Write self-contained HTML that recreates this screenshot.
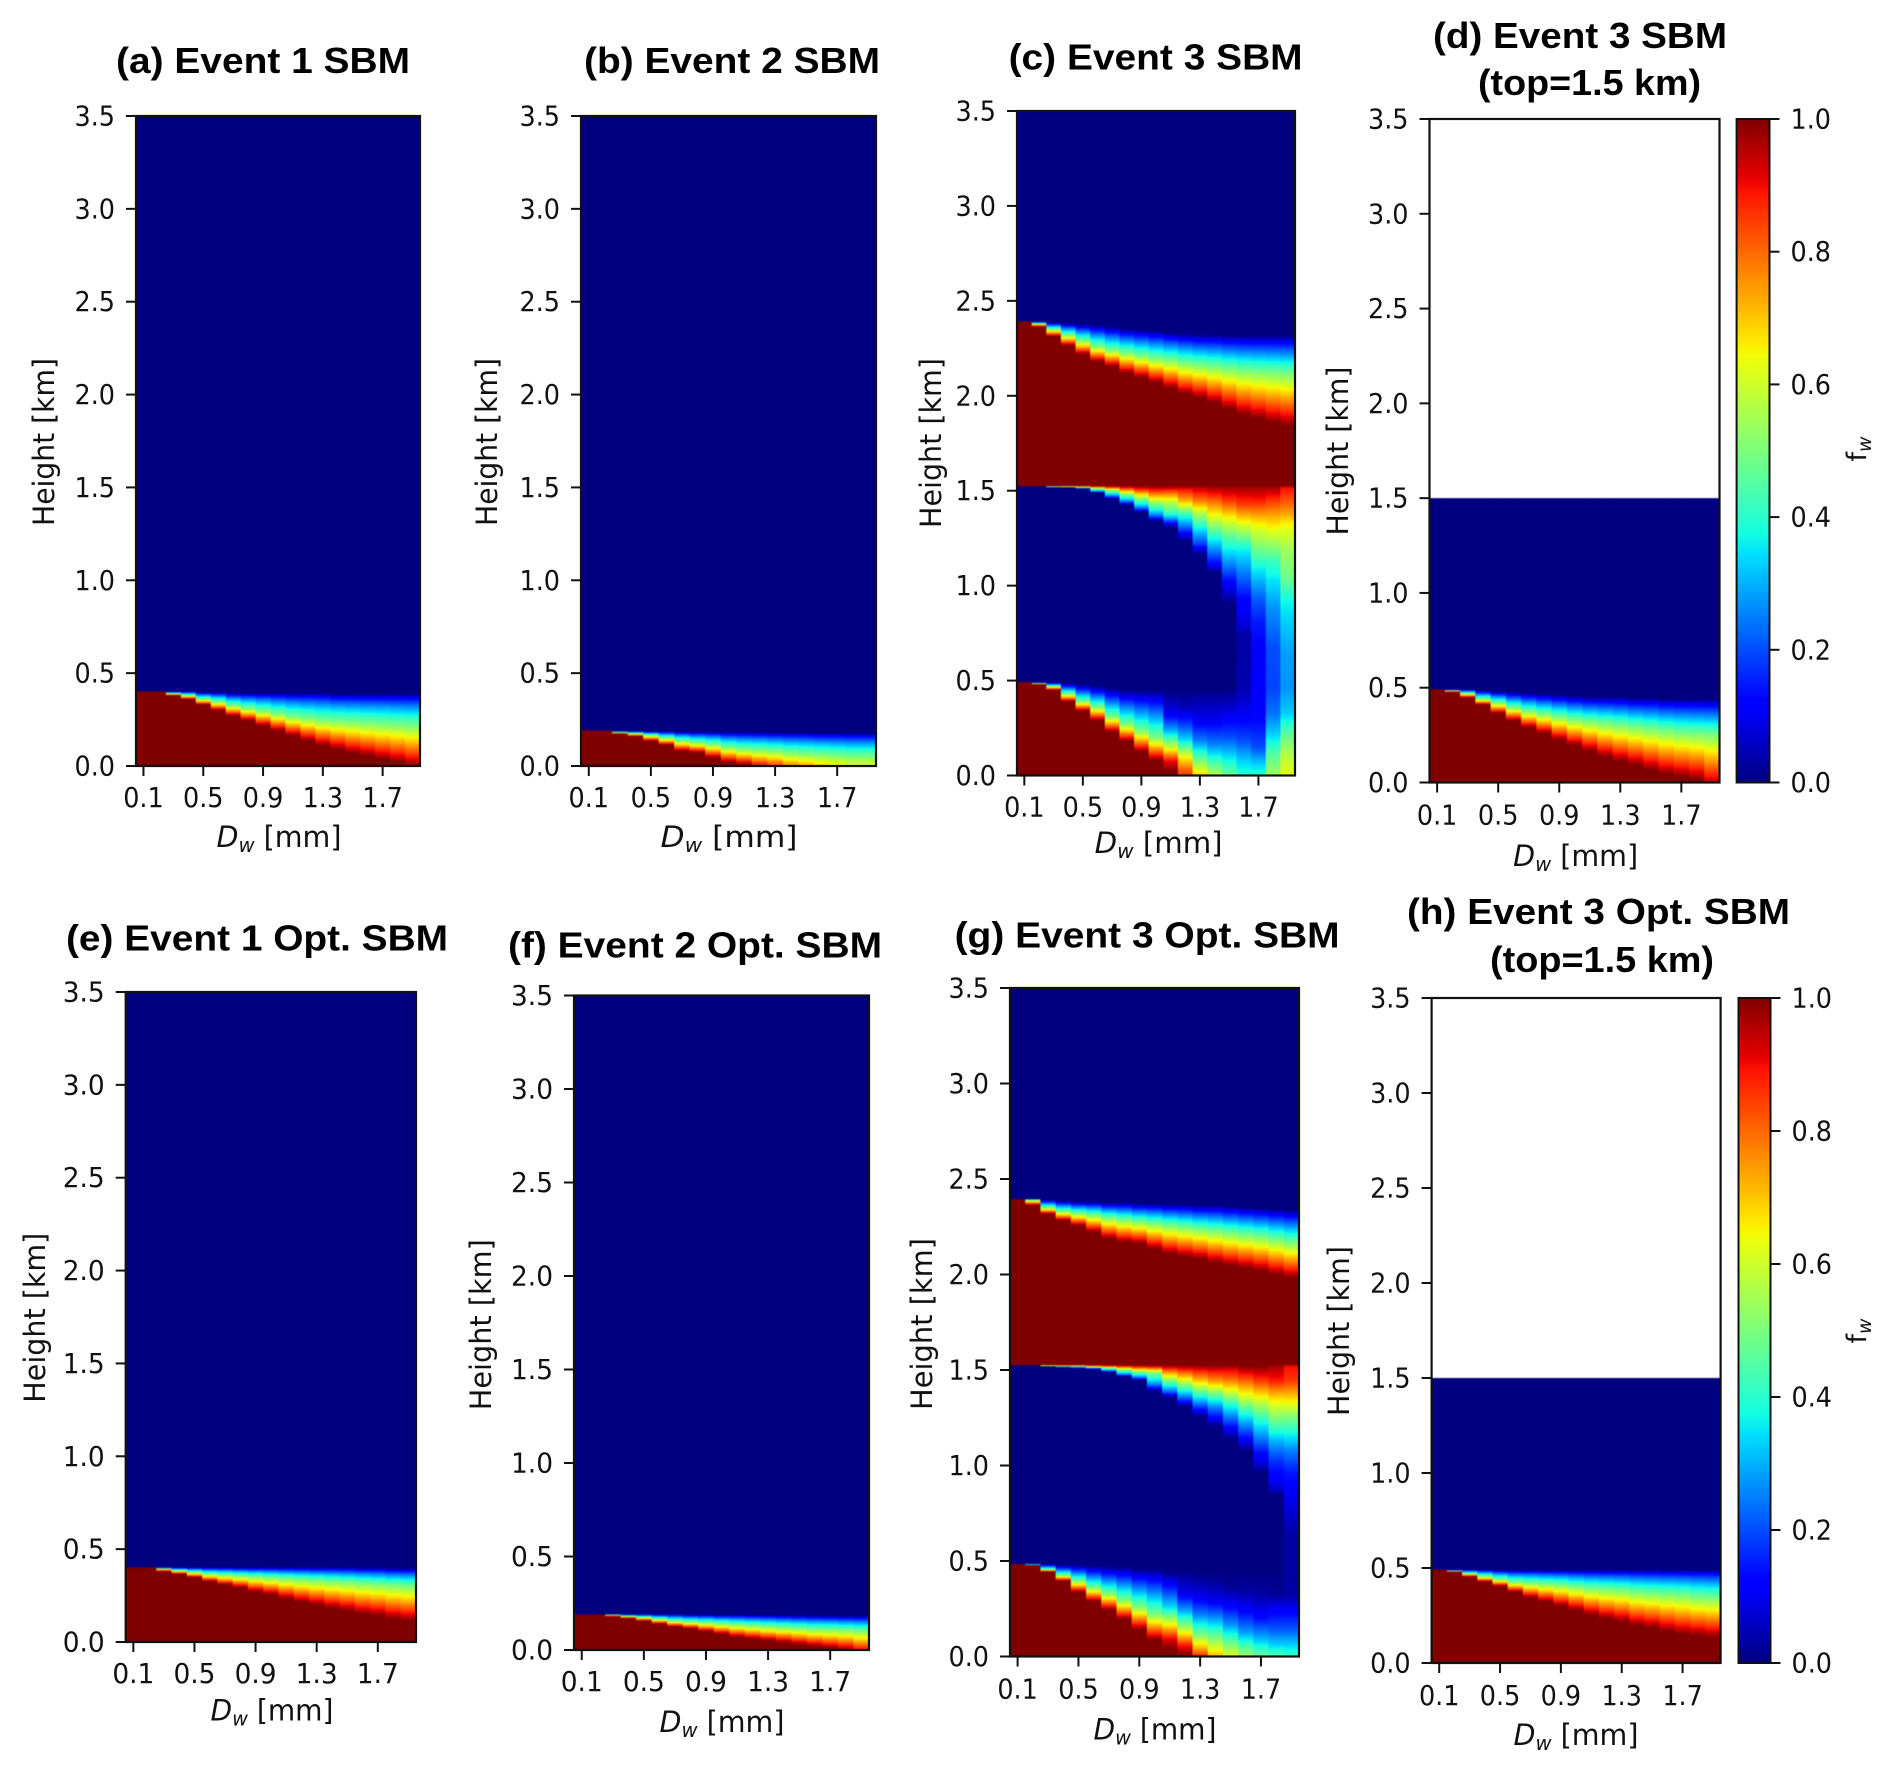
<!DOCTYPE html>
<html lang="en">
<head>
<meta charset="utf-8">
<title>Melt fraction by drop size and height</title>
<style>
html,body{margin:0;padding:0;background:#fff;}
svg{display:block;}
.title{font-family:"Liberation Sans",Arial,sans-serif;font-weight:bold;font-size:36px;fill:#000;}
.lab{font-family:"DejaVu Sans",sans-serif;font-size:29px;fill:#111;}
.it{font-style:italic;}
.tick{font-family:"DejaVu Sans",sans-serif;fill:#111;}
.heat{filter:blur(0.6px);}
</style>
</head>
<body>
<svg id="figure" xmlns="http://www.w3.org/2000/svg" width="1892" height="1770" viewBox="0 0 1892 1770">
<defs id="grads"></defs>
<rect width="1892" height="1770" fill="#fff"/>

<g id="panel-a">
<text class="title" x="116" y="73" textLength="294" lengthAdjust="spacingAndGlyphs">(a) Event 1 SBM</text>
<text class="lab" transform="translate(54,442) rotate(-90)" text-anchor="middle" textLength="168" lengthAdjust="spacingAndGlyphs">Height [km]</text>
<text class="lab" x="279" y="847" text-anchor="middle" textLength="125" lengthAdjust="spacingAndGlyphs"><tspan class="it">D</tspan><tspan class="it" font-size="20" dy="5">w</tspan><tspan dy="-5"> [mm]</tspan></text>
</g>

<g id="panel-b">
<text class="title" x="584" y="73" textLength="296" lengthAdjust="spacingAndGlyphs">(b) Event 2 SBM</text>
<text class="lab" transform="translate(497,442) rotate(-90)" text-anchor="middle" textLength="168" lengthAdjust="spacingAndGlyphs">Height [km]</text>
<text class="lab" x="729" y="847" text-anchor="middle" textLength="137" lengthAdjust="spacingAndGlyphs"><tspan class="it">D</tspan><tspan class="it" font-size="20" dy="5">w</tspan><tspan dy="-5"> [mm]</tspan></text>
</g>

<g id="panel-c">
<text class="title" x="1008.6" y="69.6" textLength="294" lengthAdjust="spacingAndGlyphs">(c) Event 3 SBM</text>
<text class="lab" transform="translate(941,443) rotate(-90)" text-anchor="middle" textLength="170" lengthAdjust="spacingAndGlyphs">Height [km]</text>
<text class="lab" x="1158.6" y="852.8" text-anchor="middle" textLength="128" lengthAdjust="spacingAndGlyphs"><tspan class="it">D</tspan><tspan class="it" font-size="20" dy="5">w</tspan><tspan dy="-5"> [mm]</tspan></text>
</g>

<g id="panel-d">
<text class="title" x="1433" y="48" textLength="294" lengthAdjust="spacingAndGlyphs">(d) Event 3 SBM</text>
<text class="title" x="1478" y="95" textLength="223" lengthAdjust="spacingAndGlyphs">(top=1.5 km)</text>
<text class="lab" transform="translate(1348,451) rotate(-90)" text-anchor="middle" textLength="169" lengthAdjust="spacingAndGlyphs">Height [km]</text>
<text class="lab" x="1575.6" y="865.8" text-anchor="middle" textLength="125" lengthAdjust="spacingAndGlyphs"><tspan class="it">D</tspan><tspan class="it" font-size="20" dy="5">w</tspan><tspan dy="-5"> [mm]</tspan></text>
<text class="lab" transform="translate(1866,449) rotate(-90)" text-anchor="middle" style="font-size:27px">f<tspan class="it" font-size="19" dy="5">w</tspan></text>
</g>

<g id="panel-e">
<text class="title" x="66" y="950.6" textLength="382" lengthAdjust="spacingAndGlyphs">(e) Event 1 Opt. SBM</text>
<text class="lab" transform="translate(45,1317.7) rotate(-90)" text-anchor="middle" textLength="170" lengthAdjust="spacingAndGlyphs">Height [km]</text>
<text class="lab" x="272" y="1720.6" text-anchor="middle" textLength="123" lengthAdjust="spacingAndGlyphs"><tspan class="it">D</tspan><tspan class="it" font-size="20" dy="5">w</tspan><tspan dy="-5"> [mm]</tspan></text>
</g>

<g id="panel-f">
<text class="title" x="508" y="957.6" textLength="374" lengthAdjust="spacingAndGlyphs">(f) Event 2 Opt. SBM</text>
<text class="lab" transform="translate(491,1324.7) rotate(-90)" text-anchor="middle" textLength="171" lengthAdjust="spacingAndGlyphs">Height [km]</text>
<text class="lab" x="722" y="1732" text-anchor="middle" textLength="125" lengthAdjust="spacingAndGlyphs"><tspan class="it">D</tspan><tspan class="it" font-size="20" dy="5">w</tspan><tspan dy="-5"> [mm]</tspan></text>
</g>

<g id="panel-g">
<text class="title" x="954.6" y="947.6" textLength="385" lengthAdjust="spacingAndGlyphs">(g) Event 3 Opt. SBM</text>
<text class="lab" transform="translate(932,1324) rotate(-90)" text-anchor="middle" textLength="172" lengthAdjust="spacingAndGlyphs">Height [km]</text>
<text class="lab" x="1155" y="1739.6" text-anchor="middle" textLength="123" lengthAdjust="spacingAndGlyphs"><tspan class="it">D</tspan><tspan class="it" font-size="20" dy="5">w</tspan><tspan dy="-5"> [mm]</tspan></text>
</g>

<g id="panel-h">
<text class="title" x="1407" y="924" textLength="383" lengthAdjust="spacingAndGlyphs">(h) Event 3 Opt. SBM</text>
<text class="title" x="1490" y="972" textLength="224" lengthAdjust="spacingAndGlyphs">(top=1.5 km)</text>
<text class="lab" transform="translate(1349,1331) rotate(-90)" text-anchor="middle" textLength="170" lengthAdjust="spacingAndGlyphs">Height [km]</text>
<text class="lab" x="1576" y="1745" text-anchor="middle" textLength="125" lengthAdjust="spacingAndGlyphs"><tspan class="it">D</tspan><tspan class="it" font-size="20" dy="5">w</tspan><tspan dy="-5"> [mm]</tspan></text>
<text class="lab" transform="translate(1866,1331) rotate(-90)" text-anchor="middle" style="font-size:27px">f<tspan class="it" font-size="19" dy="5">w</tspan></text>
</g>
</svg>

<script>
// Categories and tick labels
const dropDiameters = [0.1,0.2,0.3,0.4,0.5,0.6,0.7,0.8,0.9,1.0,1.1,1.2,1.3,1.4,1.5,1.6,1.7,1.8,1.9];
const xTickValues = [0.1,0.5,0.9,1.3,1.7];
const xTickLabels = ['0.1','0.5','0.9','1.3','1.7'];
const yTickValues = [0,0.5,1,1.5,2,2.5,3,3.5];
const yTickLabels = ['0.0','0.5','1.0','1.5','2.0','2.5','3.0','3.5'];
const colorbarTickValues = [0,0.2,0.4,0.6,0.8,1];
const colorbarTickLabels = ['0.0','0.2','0.4','0.6','0.8','1.0'];

// Heights (km) where fw reaches 1, 0.5 and 0 in each diameter column.
const aFull = [.40,.40,.38,.36,.33,.30,.27,.245,.217,.19,.163,.136,.11,.09,.07,.055,.037,.02,0];
const aMid  = [.40,.40,.39,.38,.36,.345,.325,.31,.295,.28,.265,.255,.245,.24,.235,.23,.225,.22,.215];
const aZero = [.40,.40,.40,.40,.395,.395,.39,.39,.39,.39,.39,.39,.39,.385,.385,.385,.385,.385,.385];

const bFull = [.19,.19,.175,.16,.135,.113,.08,.072,.045,.018,.005,-.015,-.03,-.05,-.07,-.09,-.12,-.14,-.16];
const bMid  = [.19,.19,.18,.175,.165,.15,.135,.125,.115,.10,.09,.085,.08,.07,.065,.06,.055,.05,.05];
const bZero = [.19,.19,.188,.186,.185,.185,.183,.182,.182,.18,.18,.18,.178,.178,.178,.176,.176,.175,.175];

const cUpperFull = [2.39,2.364,2.313,2.264,2.218,2.18,2.155,2.12,2.096,2.07,2.04,2.01,1.99,1.963,1.93,1.90,1.88,1.86,1.843];
const cUpperMid  = [2.39,2.38,2.35,2.32,2.29,2.26,2.24,2.225,2.21,2.195,2.185,2.17,2.16,2.15,2.14,2.13,2.125,2.12,2.115];
const cUpperZero = [2.39,2.39,2.385,2.38,2.375,2.37,2.36,2.35,2.345,2.34,2.33,2.325,2.32,2.32,2.315,2.315,2.315,2.315,2.315];
// Columns 0.1 to 1.0 of the two bands below the 1.5 km level
const cMiddleFull = [1.525,1.525,1.525,1.525,1.525,1.525,1.525,1.525,1.525,1.525];
const cMiddleMid  = [1.525,1.525,1.522,1.52,1.518,1.51,1.50,1.48,1.455,1.43];
const cMiddleZero = [1.525,1.525,1.516,1.516,1.511,1.49,1.46,1.427,1.389,1.343];
const cLowerFull = [.49,.48,.45,.39,.34,.29,.23,.18,.125,.08];
const cLowerMid  = [.49,.485,.47,.43,.39,.36,.31,.27,.235,.20];
const cLowerZero = [.49,.49,.49,.485,.48,.47,.46,.45,.45,.45];
// Columns 1.1 to 1.9 below 1.5 km: [height km, fw] read down each column
const cProfile11 = [[1.525,1],[1.499,.85],[1.446,.6],[1.376,.4],[1.306,0],[.45,0],[.323,.1],[.235,.3],[.147,.6],[.077,.9],[.025,1],[0,1]];
const cProfile12 = [[1.525,1],[1.508,.9],[1.446,.72],[1.376,.42],[1.306,.22],[1.236,0],[.45,0],[.358,.05],[.27,.18],[.183,.35],[.095,.65],[.025,.82],[0,.85]];
const cProfile13 = [[1.525,1],[1.517,.95],[1.446,.78],[1.376,.55],[1.288,.33],[1.218,.18],[1.166,0],[.45,0],[.428,.02],[.288,.1],[.183,.25],[.077,.5],[0,.7]];
const cProfile14 = [[1.525,1],[1.517,.97],[1.446,.8],[1.376,.65],[1.271,.42],[1.183,.25],[1.113,.12],[1.069,0],[.45,0],[.428,.02],[.288,.1],[.165,.25],[.06,.45],[0,.58]];
const cProfile15 = [[1.525,1],[1.517,.97],[1.446,.85],[1.359,.65],[1.253,.45],[1.13,.28],[1.025,.13],[.955,.06],[.902,0],[.463,0],[.323,.09],[.2,.2],[.095,.35],[0,.48]];
const cProfile16 = [[1.525,1],[1.517,.97],[1.429,.85],[1.324,.62],[1.201,.38],[1.06,.24],[.937,.13],[.779,.07],[.744,.03],[.463,.04],[.323,.1],[.183,.2],[.077,.33],[0,.4]];
const cProfile17 = [[1.525,1],[1.517,.97],[1.446,.88],[1.324,.65],[1.201,.5],[1.078,.35],[.937,.22],[.814,.15],[.639,.11],[.463,.11],[.288,.13],[.147,.2],[.06,.33],[0,.4]];
const cProfile18 = [[1.525,1],[1.517,.97],[1.446,.85],[1.359,.72],[1.253,.58],[1.13,.42],[1.025,.35],[.885,.27],[.674,.2],[.463,.19],[.323,.24],[.218,.33],[.112,.45],[0,.55]];
const cProfile19 = [[1.525,1],[1.517,.9],[1.411,.78],[1.324,.65],[1.201,.55],[1.025,.47],[.937,.38],[.814,.33],[.639,.28],[.463,.27],[.323,.33],[.2,.48],[.095,.58],[0,.63]];

const dFull = [.49,.477,.448,.41,.365,.326,.29,.26,.225,.196,.166,.136,.113,.092,.068,.044,.03,.015,-.03];
const dMid  = [.49,.485,.47,.44,.42,.395,.375,.36,.345,.33,.32,.31,.30,.29,.28,.27,.26,.255,.25];
const dZero = [.49,.49,.49,.485,.48,.475,.47,.465,.46,.455,.45,.45,.45,.445,.445,.44,.44,.44,.44];

const eFull = [.40,.40,.38,.366,.348,.326,.308,.293,.271,.256,.234,.216,.20,.183,.17,.152,.143,.125,.115];
const eMid  = [.40,.40,.395,.385,.375,.365,.36,.355,.35,.345,.34,.335,.33,.325,.32,.315,.31,.305,.30];
const eZero = [.40,.40,.40,.40,.40,.40,.40,.40,.40,.40,.40,.40,.40,.40,.40,.398,.398,.395,.395];

const fFull = [.19,.19,.18,.17,.155,.14,.125,.115,.10,.085,.07,.06,.05,.04,.03,.02,.01,0,-.02];
const fMid  = [.19,.19,.187,.18,.175,.165,.155,.15,.145,.14,.135,.13,.125,.12,.115,.11,.108,.105,.10];
const fZero = [.19,.19,.19,.19,.19,.19,.19,.188,.188,.186,.186,.185,.185,.184,.183,.182,.182,.18,.18];

const gUpperFull = [2.395,2.363,2.317,2.283,2.256,2.224,2.189,2.17,2.162,2.135,2.109,2.095,2.082,2.063,2.047,2.034,2.02,2.0,1.983];
const gUpperMid  = [2.395,2.39,2.35,2.33,2.32,2.31,2.295,2.285,2.275,2.265,2.255,2.245,2.235,2.225,2.215,2.205,2.195,2.18,2.165];
const gUpperZero = [2.395,2.395,2.39,2.385,2.38,2.38,2.375,2.375,2.37,2.37,2.365,2.365,2.36,2.36,2.355,2.35,2.345,2.34,2.335];
// Columns 0.1 to 1.0 of the two bands below the 1.5 km level
const gMiddleFull = [1.525,1.525,1.525,1.525,1.525,1.525,1.525,1.525,1.525,1.525];
const gMiddleMid  = [1.525,1.525,1.522,1.52,1.52,1.515,1.51,1.50,1.49,1.485];
const gMiddleZero = [1.525,1.525,1.52,1.515,1.51,1.506,1.49,1.466,1.448,1.394];
const gLowerFull = [.484,.476,.444,.396,.337,.289,.244,.195,.142,.088];
const gLowerMid  = [.484,.48,.455,.425,.395,.36,.33,.295,.26,.22];
const gLowerZero = [.484,.484,.484,.48,.48,.475,.47,.47,.46,.46];
// Columns 1.1 to 1.9 below 1.5 km: [height km, fw] read down each column
const gProfile11 = [[1.525,1],[1.496,.8],[1.443,.5],[1.382,.2],[1.356,0],[.446,0],[.359,.15],[.254,.35],[.166,.65],[.096,.9],[.044,1],[0,1]];
const gProfile12 = [[1.525,1],[1.496,.85],[1.443,.6],[1.373,.3],[1.321,.08],[1.312,0],[.45,0],[.429,.02],[.324,.1],[.236,.3],[.149,.55],[.061,.88],[.009,1],[0,1]];
const gProfile13 = [[1.525,1],[1.496,.88],[1.443,.7],[1.373,.42],[1.303,.17],[1.268,.05],[1.259,0],[.45,0],[.411,.02],[.306,.1],[.219,.25],[.114,.5],[.035,.75],[0,.88]];
const gProfile14 = [[1.525,1],[1.496,.9],[1.443,.75],[1.373,.48],[1.303,.25],[1.233,.08],[1.207,0],[.45,0],[.394,.02],[.289,.1],[.201,.27],[.096,.5],[0,.72]];
const gProfile15 = [[1.525,1],[1.504,.92],[1.452,.8],[1.391,.62],[1.321,.4],[1.233,.2],[1.154,.03],[1.137,0],[.45,0],[.359,.02],[.254,.13],[.166,.27],[.061,.5],[0,.62]];
const gProfile16 = [[1.525,1],[1.522,1],[1.461,.85],[1.408,.72],[1.356,.6],[1.286,.42],[1.216,.27],[1.128,.1],[1.076,0],[.45,0],[.341,.03],[.236,.12],[.131,.27],[.061,.42],[0,.55]];
const gProfile17 = [[1.525,1],[1.522,1],[1.443,.85],[1.391,.72],[1.338,.6],[1.251,.42],[1.163,.28],[1.058,.12],[.988,.05],[.971,0],[.45,0],[.324,.03],[.201,.13],[.096,.3],[0,.48]];
const gProfile18 = [[1.525,1],[1.522,.97],[1.443,.88],[1.373,.72],[1.338,.65],[1.233,.48],[1.128,.3],[1.023,.17],[.918,.1],[.866,.05],[.848,0],[.45,0],[.324,.02],[.254,.1],[.149,.2],[.061,.33],[0,.45]];
const gProfile19 = [[1.525,1],[1.522,.9],[1.443,.85],[1.373,.72],[1.321,.63],[1.251,.5],[1.163,.37],[1.076,.25],[.971,.15],[.848,.1],[.743,.07],[.638,.03],[.324,.03],[.254,.1],[.149,.2],[.061,.33],[0,.42]];

const hFull = [.49,.479,.455,.428,.404,.374,.344,.323,.30,.278,.254,.234,.219,.198,.186,.168,.153,.144,.135];
const hMid  = [.49,.485,.47,.455,.44,.425,.42,.415,.41,.40,.39,.385,.38,.37,.365,.36,.355,.345,.34];
const hZero = [.49,.49,.49,.49,.488,.488,.488,.488,.488,.488,.488,.488,.488,.488,.488,.488,.488,.488,.488];

// Axis extents for every panel
const DMIN = 0.05, DMAX = 1.95, HMIN = 0, HMAX = 3.5;
const panelDefs = [
 {id:'a',x0:136,x1:420,y0:116,y1:766,top:3.5,fs:27.5,tl:40.5,tx:41,
  layers:[{kind:'up',lo:-1,hi:9,g:.7,full:aFull,mid:aMid,zero:aZero}]},
 {id:'b',x0:581,x1:876,y0:116,y1:766,top:3.5,fs:27.5,tl:40.5,tx:41,
  layers:[{kind:'up',lo:-1,hi:9,g:.7,full:bFull,mid:bMid,zero:bZero}]},
 {id:'c',x0:1017,x1:1295,y0:111,y1:775.5,top:3.5,fs:27.5,tl:40.5,tx:41,
  profiles:{10:cProfile11,11:cProfile12,12:cProfile13,13:cProfile14,14:cProfile15,15:cProfile16,16:cProfile17,17:cProfile18,18:cProfile19},
  layers:[{kind:'up',lo:1.525,hi:9,g:.85,full:cUpperFull,mid:cUpperMid,zero:cUpperZero},
          {kind:'down',lo:-1,hi:1.525,g:.65,full:cMiddleFull,mid:cMiddleMid,zero:cMiddleZero},
          {kind:'up',lo:-1,hi:1.525,g:1,full:cLowerFull,mid:cLowerMid,zero:cLowerZero}]},
 {id:'d',x0:1429.5,x1:1719.5,y0:119,y1:782.5,top:1.5,fs:27.5,tl:40.5,tx:42,cbar:[1736.6,1769.5],
  layers:[{kind:'up',lo:-1,hi:9,g:.85,full:dFull,mid:dMid,zero:dZero}]},
 {id:'e',x0:125.7,x1:416,y0:992,y1:1642,top:3.5,fs:28,tl:42,tx:41,
  layers:[{kind:'up',lo:-1,hi:9,g:.7,full:eFull,mid:eMid,zero:eZero}]},
 {id:'f',x0:574,x1:869,y0:995.5,y1:1650,top:3.5,fs:28,tl:42,tx:41,
  layers:[{kind:'up',lo:-1,hi:9,g:.7,full:fFull,mid:fMid,zero:fZero}]},
 {id:'g',x0:1010,x1:1299,y0:988,y1:1656.5,top:3.5,fs:27.5,tl:40.5,tx:42,
  profiles:{10:gProfile11,11:gProfile12,12:gProfile13,13:gProfile14,14:gProfile15,15:gProfile16,16:gProfile17,17:gProfile18,18:gProfile19},
  layers:[{kind:'up',lo:1.525,hi:9,g:.85,full:gUpperFull,mid:gUpperMid,zero:gUpperZero},
          {kind:'down',lo:-1,hi:1.525,g:.65,full:gMiddleFull,mid:gMiddleMid,zero:gMiddleZero},
          {kind:'up',lo:-1,hi:1.525,g:1,full:gLowerFull,mid:gLowerMid,zero:gLowerZero}]},
 {id:'h',x0:1431.6,x1:1720.6,y0:998,y1:1663,top:1.5,fs:27.5,tl:40.5,tx:42,cbar:[1738.5,1770.5],
  layers:[{kind:'up',lo:-1,hi:9,g:.7,full:hFull,mid:hMid,zero:hZero}]}
];

const NS = 'http://www.w3.org/2000/svg';
const defsEl = document.getElementById('grads');
let gradCount = 0;

function el(tag, attrs, parent){
  const n = document.createElementNS(NS, tag);
  for (const k in attrs) n.setAttribute(k, attrs[k]);
  if (parent) parent.appendChild(n);
  return n;
}
function xAxis(p, d){ return p.x0 + (d - DMIN) / (DMAX - DMIN) * (p.x1 - p.x0); }
function yAxis(p, h){ return p.y1 - (h - HMIN) / (HMAX - HMIN) * (p.y1 - p.y0); }

// matplotlib jet colormap
const jetR = [[0,0],[.35,0],[.66,1],[.89,1],[1,.5]];
const jetG = [[0,0],[.125,0],[.375,1],[.64,1],[.91,0],[1,0]];
const jetB = [[0,.5],[.11,1],[.34,1],[.65,0],[1,0]];
function seg(tbl, v){
  for (let i = 1; i < tbl.length; i++){
    if (v <= tbl[i][0]){
      const a = tbl[i-1], b = tbl[i];
      return a[1] + (b[1]-a[1]) * (v-a[0]) / (b[0]-a[0]);
    }
  }
  return tbl[tbl.length-1][1];
}
function jet(v){
  v = Math.max(0, Math.min(1, v));
  return 'rgb(' + Math.round(255*seg(jetR,v)) + ',' + Math.round(255*seg(jetG,v)) + ',' + Math.round(255*seg(jetB,v)) + ')';
}
function ramp(h, full, mid, zero, g){
  if (h <= full) return 1;
  if (h >= zero) return 0;
  if (h < mid) return 1 - 0.5 * (h - full) / (mid - full);
  return 0.5 * Math.pow((zero - h) / (zero - mid), g);
}
function readProfile(list, h){
  for (let i = 1; i < list.length; i++){
    const a = list[i-1], b = list[i];
    if (h >= b[0]) return b[0] === a[0] ? b[1] : b[1] + (a[1]-b[1]) * (h-b[0]) / (a[0]-b[0]);
  }
  return list[list.length-1][1];
}
function fw(p, c, h){
  if (p.profiles && p.profiles[c] && h < 1.525) return readProfile(p.profiles[c], h);
  let v = 0;
  for (const L of p.layers){
    if (h < L.lo || h >= L.hi) continue;
    if (L.kind === 'up') v += ramp(h, L.full[c], L.mid[c], L.zero[c], L.g);
    else v += ramp(-h, -L.full[c], -L.mid[c], -L.zero[c], L.g);
  }
  return Math.min(1, v);
}

function drawPanel(p){
  const root = document.getElementById('panel-' + p.id);
  const heat = el('g', {class:'heat'}, root);
  
  
  const yTop = yAxis(p, p.top), yBot = p.y1, hgt = yBot - yTop;

  dropDiameters.forEach(function(d, c){
    const gid = 'g' + (gradCount++);
    const grad = el('linearGradient', {id:gid, x1:0, y1:0, x2:0, y2:1}, defsEl);
    const rows = Math.ceil(hgt);
    const cols = [];
    for (let r = 0; r <= rows; r++){
      const y = yTop + hgt * r / rows;
      const h = (yBot - y) / (yBot - p.y0) * (HMAX - HMIN);
      cols.push(jet(fw(p, c, Math.min(h, p.top - 1e-6))));
    }
    for (let r = 0; r <= rows; r++){
      if (r > 0 && r < rows && cols[r] === cols[r-1] && cols[r] === cols[r+1]) continue;
      el('stop', {offset:(r / rows).toFixed(5), 'stop-color':cols[r]}, grad);
    }
    const xl = xAxis(p, d - 0.05), xr = xAxis(p, d + 0.05);
    const last = c === dropDiameters.length - 1;
    const cell = el('rect', {x:xl.toFixed(2), y:yTop.toFixed(2), width:(xr - xl + (last ? 0 : 0.6)).toFixed(2), height:hgt.toFixed(2), fill:'url(#' + gid + ')'}, heat);
    
    
  });

  const frame = el('rect', {x:p.x0, y:p.y0, width:p.x1 - p.x0, height:p.y1 - p.y0, fill:'none', stroke:'#111', 'stroke-width':2.2}, root);
  
  

  xTickValues.forEach(function(v, i){
    const x = xAxis(p, v);
    const t = el('line', {x1:x, x2:x, y1:p.y1, y2:p.y1 + 10, stroke:'#111', 'stroke-width':2}, root);
    
    
    const l = el('text', {x:x, y:p.y1 + p.tx, 'text-anchor':'middle', class:'tick', style:'font-size:' + p.fs + 'px', textLength:p.tl, lengthAdjust:'spacingAndGlyphs'}, root);
    l.textContent = xTickLabels[i];
    
    
  });
  yTickValues.forEach(function(v, i){
    const y = yAxis(p, v);
    const t = el('line', {x1:p.x0 - 10, x2:p.x0, y1:y, y2:y, stroke:'#111', 'stroke-width':2}, root);
    
    
    const l = el('text', {x:p.x0 - 21, y:y + 9.5, 'text-anchor':'end', class:'tick', style:'font-size:' + p.fs + 'px', textLength:p.tl, lengthAdjust:'spacingAndGlyphs'}, root);
    l.textContent = yTickLabels[i];
    
    
  });

  if (p.cbar) drawColorbar(p, root);
}

function drawColorbar(p, root){
  const gid = 'g' + (gradCount++);
  const grad = el('linearGradient', {id:gid, x1:0, y1:1, x2:0, y2:0}, defsEl);
  for (let i = 0; i <= 128; i++) el('stop', {offset:(i / 128).toFixed(4), 'stop-color':jet(i / 128)}, grad);
  const bar = el('rect', {x:p.cbar[0], y:p.y0, width:p.cbar[1] - p.cbar[0], height:p.y1 - p.y0, fill:'url(#' + gid + ')', stroke:'#111', 'stroke-width':2}, root);
  
  
  colorbarTickValues.forEach(function(v, i){
    const y = p.y1 - v * (p.y1 - p.y0);
    const t = el('line', {x1:p.cbar[1], x2:p.cbar[1] + 10, y1:y, y2:y, stroke:'#111', 'stroke-width':2}, root);
    
    
    const l = el('text', {x:p.cbar[1] + 21, y:y + 9.5, class:'tick', style:'font-size:' + p.fs + 'px', textLength:p.tl, lengthAdjust:'spacingAndGlyphs'}, root);
    l.textContent = colorbarTickLabels[i];
    
    
  });
}

panelDefs.forEach(drawPanel);
</script>
</body>
</html>
